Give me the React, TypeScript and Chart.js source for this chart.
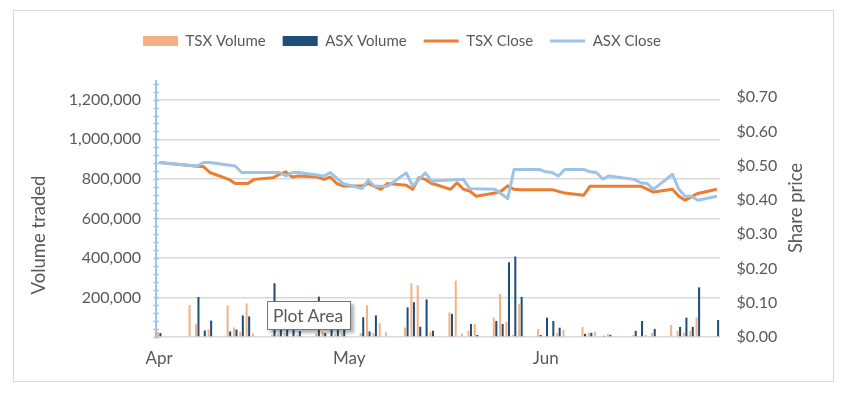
import React, { useEffect, useRef } from 'react';
import { Chart, registerables } from 'chart.js';

Chart.register(...registerables);

const START_YEAR = 2021;
const START_MONTH = 3; // April (0-based)
const DAY_COUNT = 89;
const MONTH_NAMES = ['Jan', 'Feb', 'Mar', 'Apr', 'May', 'Jun', 'Jul', 'Aug', 'Sep', 'Oct', 'Nov', 'Dec'];

// [day index from 1 Apr, value]
const TSX_VOLUME: [number, number][] = [
  [0, 25000], [5, 162000], [6, 65000], [8, 38000], [11, 160000], [12, 48000], [13, 27000],
  [14, 170000], [15, 18000], [18, 10000], [19, 15000], [20, 20000], [22, 10000], [25, 18000],
  [26, 25000], [28, 15000], [29, 22000], [32, 20000], [33, 160000], [34, 20000], [35, 70000],
  [36, 24000], [39, 48000], [40, 272000], [41, 262000], [43, 24000], [46, 124000], [47, 285000],
  [48, 17000], [49, 31000], [50, 66000], [53, 98000], [54, 218000], [55, 77000], [56, 10000],
  [57, 168000], [60, 41000], [61, 6000], [63, 22000], [64, 36000], [67, 51000], [68, 21000],
  [69, 26000], [71, 16000], [75, 10000], [77, 10000], [78, 22000], [81, 61000], [82, 31000],
  [83, 21000], [84, 31000], [85, 98000],
];

const ASX_VOLUME: [number, number][] = [
  [0, 20000], [6, 202000], [7, 33000], [8, 83000], [11, 28000], [12, 38000], [13, 109000],
  [14, 104000], [18, 272000], [19, 40000], [20, 60000], [21, 50000], [22, 30000], [25, 204000],
  [26, 20000], [27, 45000], [28, 40000], [29, 39000], [32, 100000], [33, 28000], [34, 109000],
  [39, 150000], [40, 176000], [41, 52000], [42, 190000], [43, 32000], [46, 117000], [49, 66000],
  [50, 10000], [53, 81000], [54, 66000], [55, 378000], [56, 407000], [57, 203000], [60, 10000],
  [61, 98000], [62, 81000], [63, 47000], [67, 16000], [68, 21000], [70, 6000], [71, 11000],
  [75, 31000], [76, 81000], [78, 41000], [82, 51000], [83, 98000], [84, 51000], [85, 251000],
  [88, 86000],
];

const TSX_CLOSE: [number, number][] = [
  [0, 0.509], [6, 0.498], [7, 0.497], [8, 0.48], [11, 0.46], [12, 0.448], [14, 0.448],
  [15, 0.46], [18, 0.465], [19, 0.475], [20, 0.482], [21, 0.467], [22, 0.47], [25, 0.467],
  [26, 0.46], [27, 0.467], [28, 0.448], [29, 0.441], [32, 0.441], [33, 0.448], [35, 0.431],
  [36, 0.448], [39, 0.443], [40, 0.431], [41, 0.465], [42, 0.46], [43, 0.448], [44, 0.443],
  [46, 0.431], [47, 0.45], [48, 0.431], [49, 0.426], [50, 0.411], [53, 0.42], [54, 0.426],
  [55, 0.441], [56, 0.431], [57, 0.43], [62, 0.43], [64, 0.42], [67, 0.414], [68, 0.44],
  [76, 0.44], [78, 0.423], [81, 0.431], [82, 0.411], [83, 0.399], [85, 0.419], [88, 0.431],
];

const ASX_CLOSE: [number, number][] = [
  [0, 0.509], [6, 0.499], [7, 0.509], [8, 0.509], [12, 0.499], [13, 0.48], [19, 0.48],
  [20, 0.47], [21, 0.48], [22, 0.48], [26, 0.47], [27, 0.48], [29, 0.448], [32, 0.433],
  [33, 0.458], [34, 0.44], [36, 0.44], [39, 0.479], [40, 0.44], [42, 0.479], [43, 0.455],
  [48, 0.46], [49, 0.433], [53, 0.431], [55, 0.404], [56, 0.489], [60, 0.489], [61, 0.482],
  [62, 0.48], [63, 0.47], [64, 0.489], [67, 0.489], [68, 0.482], [69, 0.48], [70, 0.461],
  [71, 0.47], [75, 0.46], [76, 0.45], [77, 0.448], [78, 0.431], [81, 0.475], [82, 0.431],
  [83, 0.411], [84, 0.411], [85, 0.399], [88, 0.411],
];

const VOLUME_TICKS = [0, 200000, 400000, 600000, 800000, 1000000, 1200000];
const VOLUME_MAX = 1300000;
const VOLUME_MINOR_STEP = 40000;
const PRICE_TICKS = [0, 0.1, 0.2, 0.3, 0.4, 0.5, 0.6, 0.7];
const PRICE_MAX = 0.75;

const FONT = 'Lato';
const TEXT = '#595959';

const DATES: string[] = [];
for (let i = 0; i < DAY_COUNT; i++) {
  DATES.push(new Date(Date.UTC(START_YEAR, START_MONTH, 1 + i)).toISOString().slice(0, 10));
}

function expand(points: [number, number][]): (number | null)[] {
  const out: (number | null)[] = DATES.map(() => null);
  points.forEach(([d, v]) => {
    out[d] = v;
  });
  return out;
}

const layoutPlugin = {
  id: 'layoutFix',
  beforeLayout(chart: any) {
    const legend = chart.legend;
    if (legend && !legend.__patched) {
      const orig = legend.fit.bind(legend);
      legend.fit = function () {
        orig();
        this.height = 63.5;
      };
      legend.__patched = true;
    }
  },
  afterLayout(chart: any) {
    if (chart.legend) chart.legend.left = 118;
  },
};

const decorPlugin = {
  id: 'decor',
  beforeDatasetsDraw(chart: any) {
    const { ctx, chartArea, scales } = chart;
    const y = scales.y;
    ctx.save();
    ctx.strokeStyle = '#9DC3E6';
    ctx.lineWidth = 2;
    ctx.beginPath();
    ctx.moveTo(chartArea.left, chartArea.top);
    ctx.lineTo(chartArea.left, chartArea.bottom + 1);
    ctx.stroke();
    ctx.lineWidth = 1.5;
    for (let v = 0; v <= VOLUME_MAX; v += VOLUME_MINOR_STEP) {
      const py = Math.round(y.getPixelForValue(v)) + 0.5;
      ctx.beginPath();
      ctx.moveTo(chartArea.left - 2.5, py);
      ctx.lineTo(chartArea.left + 3, py);
      ctx.stroke();
    }
    ctx.restore();
  },
  afterDraw(chart: any) {
    const { ctx } = chart;
    ctx.save();
    ctx.fillStyle = TEXT;
    ctx.font = `18.5px ${FONT}`;
    ctx.textAlign = 'center';
    ctx.textBaseline = 'middle';
    ctx.translate(31, 227);
    ctx.rotate(-Math.PI / 2);
    ctx.fillText('Volume traded', 0, 0);
    ctx.restore();
    ctx.save();
    ctx.fillStyle = TEXT;
    ctx.font = `18.5px ${FONT}`;
    ctx.textAlign = 'center';
    ctx.textBaseline = 'middle';
    ctx.translate(788, 200);
    ctx.rotate(-Math.PI / 2);
    ctx.fillText('Share price', 0, 0);
    ctx.restore();
  },
};

export default function App() {
  const canvasRef = useRef<HTMLCanvasElement | null>(null);

  useEffect(() => {
    if (!canvasRef.current) return;
    const chart = new Chart(canvasRef.current, {
      type: 'bar',
      data: {
        labels: DATES,
        datasets: [
          {
            type: 'bar',
            label: 'TSX Volume',
            data: expand(TSX_VOLUME),
            backgroundColor: '#F4B183',
            borderWidth: 0,
            yAxisID: 'y',
            categoryPercentage: 0.8,
            barPercentage: 0.8,
            pointStyle: 'rect',
            order: 3,
          } as any,
          {
            type: 'bar',
            label: 'ASX Volume',
            data: expand(ASX_VOLUME),
            backgroundColor: '#1F4E79',
            borderWidth: 0,
            yAxisID: 'y',
            categoryPercentage: 0.8,
            barPercentage: 0.8,
            pointStyle: 'rect',
            order: 3,
          } as any,
          {
            type: 'line',
            label: 'TSX Close',
            data: expand(TSX_CLOSE),
            borderColor: '#ED7D31',
            backgroundColor: '#ED7D31',
            borderWidth: 3,
            pointRadius: 0,
            pointStyle: 'line',
            spanGaps: true,
            tension: 0,
            borderJoinStyle: 'round',
            yAxisID: 'y1',
            order: 2,
          } as any,
          {
            type: 'line',
            label: 'ASX Close',
            data: expand(ASX_CLOSE),
            borderColor: '#9DC3E6',
            backgroundColor: '#9DC3E6',
            borderWidth: 3,
            pointRadius: 0,
            pointStyle: 'line',
            spanGaps: true,
            tension: 0,
            borderJoinStyle: 'round',
            yAxisID: 'y1',
            order: 1,
          } as any,
        ],
      },
      options: {
        animation: false,
        responsive: true,
        maintainAspectRatio: false,
        layout: { padding: { top: 8.5, left: 0, right: 0, bottom: 0 } },
        plugins: {
          legend: {
            position: 'top',
            align: 'start',
            labels: {
              usePointStyle: true,
              pointStyleWidth: 35,
              boxWidth: 35,
              boxHeight: 10,
              padding: 17,
              color: TEXT,
              font: { family: FONT, size: 15 },
              sort: (a: any, b: any) => a.datasetIndex - b.datasetIndex,
            },
          },
          tooltip: { enabled: false },
        },
        scales: {
          x: {
            type: 'category',
            offset: true,
            grid: { display: false, drawTicks: false },
            border: { display: false },
            ticks: {
              autoSkip: false,
              maxRotation: 0,
              minRotation: 0,
              padding: 11,
              color: TEXT,
              font: { family: FONT, size: 17 },
              callback: (_v: any, index: number) => {
                const parts = DATES[index].split('-');
                return parts[2] === '01' ? MONTH_NAMES[Number(parts[1]) - 1] : '';
              },
            },
            afterFit: (s: any) => {
              s.height = 52;
            },
          },
          y: {
            position: 'left',
            min: 0,
            max: VOLUME_MAX,
            afterBuildTicks: (s: any) => {
              s.ticks = VOLUME_TICKS.map((value) => ({ value }));
            },
            grid: { color: '#D9D9D9', lineWidth: 1.5, drawTicks: false },
            border: { display: false },
            ticks: {
              padding: 15,
              color: TEXT,
              font: { family: FONT, size: 16 },
              callback: (v: any) => (Number(v) === 0 ? '' : Number(v).toLocaleString('en-US')),
            },
            afterFit: (s: any) => {
              s.width = 148;
            },
          },
          y1: {
            position: 'right',
            min: 0,
            max: PRICE_MAX,
            afterBuildTicks: (s: any) => {
              s.ticks = PRICE_TICKS.map((value) => ({ value }));
            },
            grid: { display: false, drawTicks: false },
            border: { display: false },
            ticks: {
              padding: 16.5,
              color: TEXT,
              font: { family: FONT, size: 16 },
              callback: (v: any) => '$' + Number(v).toFixed(2),
            },
            afterFit: (s: any) => {
              s.width = 118;
            },
          },
        },
      } as any,
      plugins: [layoutPlugin, decorPlugin],
    });
    return () => chart.destroy();
  }, []);

  return (
    <div style={{ position: 'relative', width: 830, height: 381 }}>
      <div
        style={{
          position: 'absolute',
          left: 5,
          top: 2,
          width: 821,
          height: 372,
          boxSizing: 'border-box',
          border: '1px solid #D9D9D9',
        }}
      />
      <canvas ref={canvasRef} />
      <div
        style={{
          position: 'absolute',
          left: 259,
          top: 293,
          width: 84,
          height: 29,
          boxSizing: 'border-box',
          border: '1px solid #767676',
          background: '#ffffff',
          boxShadow: '3px 3px 3px rgba(0,0,0,0.3)',
          fontFamily: FONT,
          fontSize: '17.5px',
          color: TEXT,
          lineHeight: '27px',
          paddingLeft: 5,
          whiteSpace: 'nowrap',
        }}
      >
        Plot Area
      </div>
    </div>
  );
}
